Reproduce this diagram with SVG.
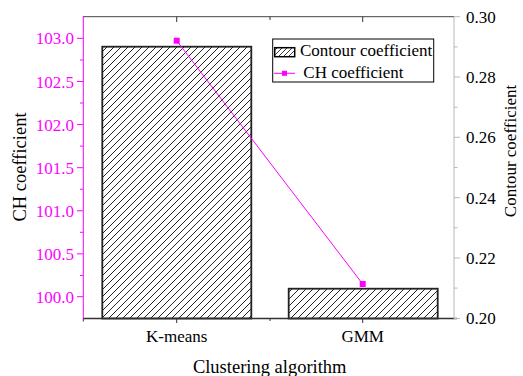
<svg xmlns="http://www.w3.org/2000/svg" width="523" height="376" viewBox="0 0 523 376">
<style>
text{font-family:'Liberation Serif','DejaVu Serif',serif;fill:#000}
.tk{font-size:17px}
.mg{fill:#ff00ff}
.ttl{font-size:18.5px}
.lt{stroke:#ff00ff;stroke-width:1}
.rt{stroke:#b8b8b8;stroke-width:1}
.bk{stroke:#333;stroke-width:1}
.bar{fill:url(#hatch);stroke:#222;stroke-width:1.8}
.ch{fill:#ff00ff}
</style>
<defs>
<pattern id="hatch" patternUnits="userSpaceOnUse" width="7" height="7">
<rect width="7" height="7" fill="#fff"/>
<path d="M-1,1 L1,-1 M0,7 L7,0 M6,8 L8,6" stroke="#222" stroke-width="1"/>
</pattern>
<pattern id="hatch2" patternUnits="userSpaceOnUse" width="5" height="5">
<rect width="5" height="5" fill="#fff"/>
<path d="M-1,1 L1,-1 M0,5 L5,0 M4,6 L6,4" stroke="#222" stroke-width="0.9"/>
</pattern>
</defs>
<rect width="523" height="376" fill="#fff"/>
<g id="bars">
<rect id="bar-kmeans" class="bar" x="102.3" y="46.7" width="149" height="271.8"/>
<rect id="bar-gmm" class="bar" x="288.7" y="288.7" width="149" height="29.8"/>
</g>
<g id="axes">
<line x1="83" y1="16.7" x2="454" y2="16.7" stroke="#444" stroke-width="1"/>
<line x1="83" y1="318.5" x2="457" y2="318.5" stroke="#333" stroke-width="1.3"/>
<line class="lt" x1="83.3" y1="16" x2="83.3" y2="319"/>
<line class="rt" x1="454" y1="16.7" x2="454" y2="318.5"/>
<g class="lt">
<line x1="77" y1="38.3" x2="83" y2="38.3"/><line x1="80" y1="60" x2="83" y2="60"/>
<line x1="77" y1="81.5" x2="83" y2="81.5"/><line x1="80" y1="103" x2="83" y2="103"/>
<line x1="77" y1="124.6" x2="83" y2="124.6"/><line x1="80" y1="146.1" x2="83" y2="146.1"/>
<line x1="77" y1="167.7" x2="83" y2="167.7"/><line x1="80" y1="189.2" x2="83" y2="189.2"/>
<line x1="77" y1="210.8" x2="83" y2="210.8"/><line x1="80" y1="232.3" x2="83" y2="232.3"/>
<line x1="77" y1="253.9" x2="83" y2="253.9"/><line x1="80" y1="275.4" x2="83" y2="275.4"/>
<line x1="77" y1="296.7" x2="83" y2="296.7"/>
</g>
<g class="rt">
<line x1="454" y1="16.7" x2="460" y2="16.7"/><line x1="454" y1="46.9" x2="457.5" y2="46.9"/>
<line x1="454" y1="77" x2="460" y2="77"/><line x1="454" y1="107.2" x2="457.5" y2="107.2"/>
<line x1="454" y1="137.3" x2="460" y2="137.3"/><line x1="454" y1="167.5" x2="457.5" y2="167.5"/>
<line x1="454" y1="197.7" x2="460" y2="197.7"/><line x1="454" y1="227.8" x2="457.5" y2="227.8"/>
<line x1="454" y1="258" x2="460" y2="258"/><line x1="454" y1="288.1" x2="457.5" y2="288.1"/>
<line x1="454" y1="318.5" x2="460" y2="318.5"/>
</g>
<g stroke="#333" stroke-width="1">
<line x1="176.7" y1="318.5" x2="176.7" y2="323"/>
<line x1="270" y1="318.5" x2="270" y2="321"/>
<line x1="362.7" y1="318.5" x2="362.7" y2="323"/>
<line x1="83.3" y1="318.5" x2="83.3" y2="321.5"/>
<line x1="176.7" y1="16.7" x2="176.7" y2="22"/>
<line x1="270" y1="16.7" x2="270" y2="20"/>
<line x1="362.7" y1="16.7" x2="362.7" y2="22"/>
</g>
</g>
<g id="left-labels" class="tk" text-anchor="end" font-family="Liberation Serif, serif">
<text class="mg" x="74" y="44.3">103.0</text>
<text class="mg" x="74" y="87.5">102.5</text>
<text class="mg" x="74" y="130.6">102.0</text>
<text class="mg" x="74" y="173.7">101.5</text>
<text class="mg" x="74" y="216.8">101.0</text>
<text class="mg" x="74" y="259.9">100.5</text>
<text class="mg" x="74" y="302.7">100.0</text>
</g>
<g id="right-labels" class="tk">
<text x="466" y="22.5">0.30</text>
<text x="466" y="82.8">0.28</text>
<text x="466" y="143.1">0.26</text>
<text x="466" y="203.5">0.24</text>
<text x="466" y="263.8">0.22</text>
<text x="466" y="324.3">0.20</text>
</g>
<g id="x-labels" class="tk" text-anchor="middle">
<text x="176.7" y="342">K-means</text>
<text x="362.7" y="342">GMM</text>
</g>
<g id="titles" class="ttl" text-anchor="middle">
<text x="269.7" y="372.5">Clustering algorithm</text>
<text transform="translate(25.5,167) rotate(-90)">CH coefficient</text>
<text transform="translate(515.5,151) rotate(-90)" style="font-size:17px">Contour coefficient</text>
</g>
<g id="connectors">
<line x1="176.7" y1="40.7" x2="362.7" y2="284" stroke="#ff00ff" stroke-width="1"/>
</g>
<g id="ch-markers">
<rect class="ch" x="173.7" y="37.7" width="6" height="6"/>
<rect class="ch" x="359.7" y="281" width="6" height="6"/>
</g>
<g id="legend">
<rect x="272.7" y="39" width="161" height="43" fill="#fff" stroke="#000" stroke-width="1"/>
<rect x="274.7" y="47.7" width="20" height="9" fill="url(#hatch2)" stroke="#000" stroke-width="1.5"/>
<text class="tk" x="300" y="56">Contour coefficient</text>
<line x1="274" y1="73.3" x2="295" y2="73.3" stroke="#ff00ff" stroke-width="1"/>
<rect class="ch" x="282" y="70.8" width="5" height="5"/>
<text class="tk" x="303.3" y="77.5">CH coefficient</text>
</g>
</svg>
